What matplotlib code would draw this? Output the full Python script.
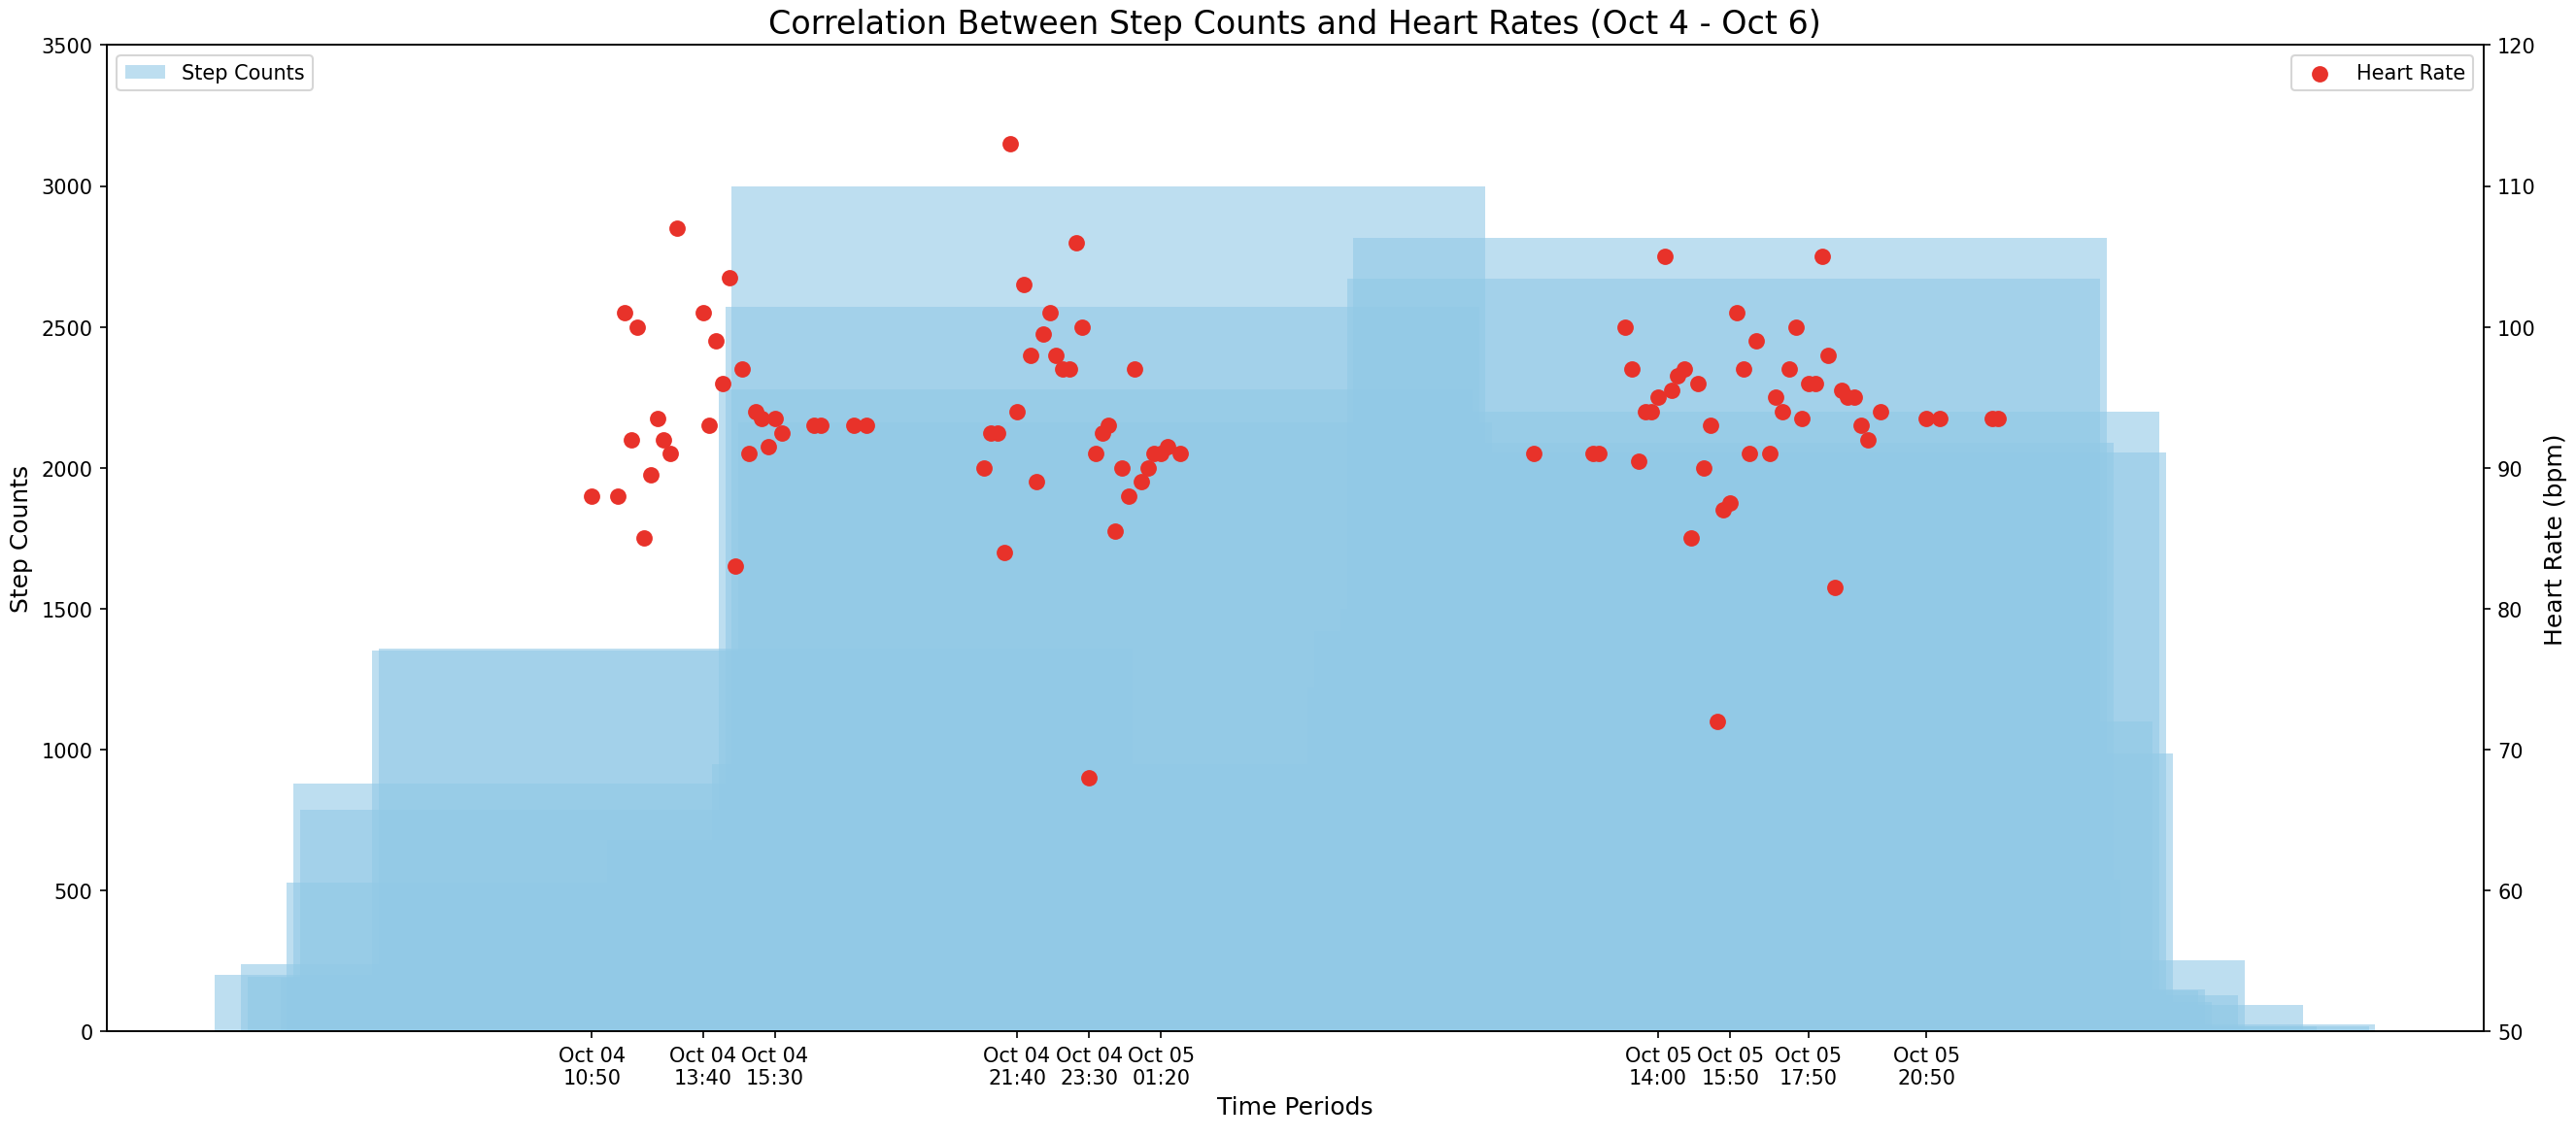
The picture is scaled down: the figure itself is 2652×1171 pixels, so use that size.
import pandas as pd
import matplotlib.pyplot as plt
import matplotlib.dates as mdates

# ---------------------------------------------------------
# Data
# ---------------------------------------------------------
step_times = [
    "2023-10-04 10:50", "2023-10-04 11:30", "2023-10-04 11:40", "2023-10-04 12:30",
    "2023-10-04 12:40", "2023-10-04 12:50", "2023-10-04 13:00", "2023-10-04 14:50",
    "2023-10-04 15:00", "2023-10-04 20:50", "2023-10-04 23:30", "2023-10-04 23:40",
    "2023-10-04 23:50", "2023-10-05 00:00", "2023-10-05 00:10", "2023-10-05 14:40",
    "2023-10-05 14:50", "2023-10-05 15:30", "2023-10-05 15:40", "2023-10-05 15:50",
    "2023-10-05 16:00", "2023-10-05 16:10", "2023-10-05 17:00", "2023-10-05 17:10",
    "2023-10-05 17:20", "2023-10-05 17:30", "2023-10-05 18:10", "2023-10-05 18:20",
    "2023-10-05 18:30", "2023-10-05 19:10", "2023-10-05 19:20", "2023-10-05 20:50",
    "2023-10-05 21:10", "2023-10-05 22:30", "2023-10-05 22:40",
]
step_counts = [
    200, 240, 195, 190,
    530, 880, 785, 1350,
    1360, 680, 950, 2280,
    2570, 3000, 2160, 1220,
    1420, 1500, 2670, 2815,
    2090, 540, 1100, 2200,
    2055, 985, 145, 150,
    105, 128, 252, 94,
    17, 17, 25,
]

hr_times = [
    "2023-10-04 10:50", "2023-10-04 11:30", "2023-10-04 11:40", "2023-10-04 11:50",
    "2023-10-04 12:00", "2023-10-04 12:10", "2023-10-04 12:20", "2023-10-04 12:30",
    "2023-10-04 12:40", "2023-10-04 12:50", "2023-10-04 13:00", "2023-10-04 13:40",
    "2023-10-04 13:50", "2023-10-04 14:00", "2023-10-04 14:10", "2023-10-04 14:20",
    "2023-10-04 14:30", "2023-10-04 14:40", "2023-10-04 14:50", "2023-10-04 15:00",
    "2023-10-04 15:10", "2023-10-04 15:20", "2023-10-04 15:30", "2023-10-04 15:40",
    "2023-10-04 16:30", "2023-10-04 16:40", "2023-10-04 17:30", "2023-10-04 17:50",
    "2023-10-04 20:50", "2023-10-04 21:00", "2023-10-04 21:10", "2023-10-04 21:20",
    "2023-10-04 21:30", "2023-10-04 21:40", "2023-10-04 21:50", "2023-10-04 22:00",
    "2023-10-04 22:10", "2023-10-04 22:20", "2023-10-04 22:30", "2023-10-04 22:40",
    "2023-10-04 22:50", "2023-10-04 23:00", "2023-10-04 23:10", "2023-10-04 23:20",
    "2023-10-04 23:30", "2023-10-04 23:40", "2023-10-04 23:50", "2023-10-05 00:00",
    "2023-10-05 00:10", "2023-10-05 00:20", "2023-10-05 00:30", "2023-10-05 00:40",
    "2023-10-05 00:50", "2023-10-05 01:00", "2023-10-05 01:10", "2023-10-05 01:20",
    "2023-10-05 01:30", "2023-10-05 01:50", "2023-10-05 10:50", "2023-10-05 12:20",
    "2023-10-05 12:30", "2023-10-05 13:10", "2023-10-05 13:20", "2023-10-05 13:30",
    "2023-10-05 13:40", "2023-10-05 13:50", "2023-10-05 14:00", "2023-10-05 14:10",
    "2023-10-05 14:20", "2023-10-05 14:30", "2023-10-05 14:40", "2023-10-05 14:50",
    "2023-10-05 15:00", "2023-10-05 15:10", "2023-10-05 15:20", "2023-10-05 15:30",
    "2023-10-05 15:40", "2023-10-05 15:50", "2023-10-05 16:00", "2023-10-05 16:10",
    "2023-10-05 16:20", "2023-10-05 16:30", "2023-10-05 16:50", "2023-10-05 17:00",
    "2023-10-05 17:10", "2023-10-05 17:20", "2023-10-05 17:30", "2023-10-05 17:40",
    "2023-10-05 17:50", "2023-10-05 18:00", "2023-10-05 18:10", "2023-10-05 18:20",
    "2023-10-05 18:30", "2023-10-05 18:40", "2023-10-05 18:50", "2023-10-05 19:00",
    "2023-10-05 19:10", "2023-10-05 19:20", "2023-10-05 19:40", "2023-10-05 20:50",
    "2023-10-05 21:10", "2023-10-05 22:30", "2023-10-05 22:40",
]
heart_rates = [
    88, 88, 101, 92, 100, 85, 89.5, 93.5, 92, 91, 107, 101,
    93, 99, 96, 103.5, 83, 97, 91, 94, 93.5, 91.5, 93.5, 92.5,
    93, 93, 93, 93,
    90, 92.5, 92.5, 84, 113, 94, 103, 98, 89, 99.5, 101, 98,
    97, 97, 106, 100, 68, 91, 92.5, 93, 85.5, 90, 88, 97,
    89, 90, 91, 91, 91.5, 91,
    91, 91, 91, 100, 97, 90.5, 94, 94, 95, 105, 95.5, 96.5,
    97, 85, 96, 90, 93, 72, 87, 87.5, 101, 97, 91, 99,
    91, 95, 94, 97, 100, 93.5, 96, 96, 105, 98, 81.5, 95.5,
    95, 95, 93, 92, 94, 93.5, 93.5, 93.5, 93.5,
]

step_times = pd.to_datetime(step_times)
hr_times = pd.to_datetime(hr_times)

# ---------------------------------------------------------
# Plotting
# ---------------------------------------------------------
fig, ax1 = plt.subplots(figsize=(17.68, 7.813), dpi=150)
fig.subplots_adjust(left=0.0415, right=0.964, top=0.9596, bottom=0.0927)

# default bar width (0.8 day) centred on each timestamp
ax1.bar(step_times, step_counts, color='#92c9e6', alpha=0.6, label='Step Counts')
ax1.set_ylim(0, 3500)
ax1.set_ylabel('Step Counts', fontsize=12)
ax1.set_xlabel('Time Periods', fontsize=12)

ax2 = ax1.twinx()
ax2.scatter(hr_times, heart_rates, color='#e8322a', s=50, label='Heart Rate')
ax2.set_ylim(50, 120)
ax2.set_ylabel('Heart Rate (bpm)', fontsize=12)

# every 11th heart-rate timestamp as a tick
ax1.set_xticks(hr_times[::11])
ax1.xaxis.set_major_formatter(mdates.DateFormatter('%b %d\n%H:%M'))

ax1.legend(loc='upper left')
ax2.legend(loc='upper right')
plt.title('Correlation Between Step Counts and Heart Rates (Oct 4 - Oct 6)', fontsize=16)

plt.savefig('out.png', dpi=150)
